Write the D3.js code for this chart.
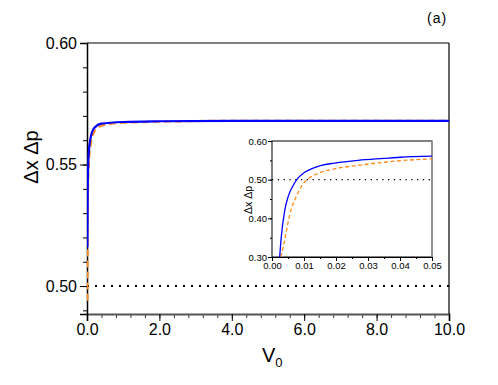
<!DOCTYPE html>
<html>
<head>
<meta charset="utf-8">
<script src="https://cdn.jsdelivr.net/npm/d3@7"></script>
<style>
  body { margin: 0; background: #fff; }
  text { font-family: "Liberation Sans", Arial, sans-serif; }
</style>
</head>
<body>
<svg id="chart" width="498" height="385"></svg>
<script>
// main panel data
const v0 = [0.01, 0.02, 0.03, 0.05, 0.1, 0.2, 0.4, 1, 2, 4, 6, 8, 10];
const blueMain = [0.516, 0.540, 0.548, 0.555, 0.561, 0.565, 0.5668, 0.5675, 0.5678, 0.568, 0.568, 0.568, 0.568];
const orangeMain = [0.494, 0.528, 0.540, 0.550, 0.558, 0.5635, 0.566, 0.5672, 0.5676, 0.568, 0.568, 0.568, 0.568];

// inset data (small V0)
const v0Inset = [0.0024, 0.0029, 0.004, 0.005, 0.0066, 0.0081, 0.010, 0.0123, 0.0154, 0.0196, 0.0269, 0.035, 0.04, 0.05];
const blueInset = [0.30, 0.352, 0.421, 0.455, 0.485, 0.504, 0.518, 0.528, 0.537, 0.543, 0.550, 0.555, 0.558, 0.561];
const v0InsetO = [0.0027, 0.004, 0.005, 0.006, 0.0076, 0.0092, 0.011, 0.0143, 0.0196, 0.0269, 0.035, 0.04, 0.05];
const orangeInset = [0.30, 0.345, 0.389, 0.423, 0.457, 0.483, 0.50, 0.516, 0.528, 0.537, 0.545, 0.549, 0.554];

const mainTicksX = [0, 2, 4, 6, 8, 10];
const mainTicksY = [0.50, 0.55, 0.60];
const insetTicksX = [0, 0.01, 0.02, 0.03, 0.04, 0.05];
const insetTicksY = [0.30, 0.40, 0.50, 0.60];

const svg = d3.select("#chart");

// ---- main plot ----
const m = { left: 87, top: 43, right: 449, bottom: 314 };
const x = d3.scaleLinear().domain([0, 10]).range([m.left, m.right]);
const y = d3.scaleLinear().domain([0.4885, 0.60]).range([m.bottom, m.top]);

svg.append("defs").append("clipPath").attr("id", "clipMain")
  .append("rect").attr("x", m.left).attr("y", m.top)
  .attr("width", m.right - m.left).attr("height", m.bottom - m.top);

// minor ticks
svg.append("g").attr("transform", `translate(0,${m.bottom})`)
  .call(d3.axisBottom(x).tickValues(d3.range(0, 10.01, 0.4)).tickSize(4).tickFormat(""))
  .call(g => g.select(".domain").remove())
  .selectAll("line").attr("stroke", "#333");
svg.append("g").attr("transform", `translate(${m.left},0)`)
  .call(d3.axisLeft(y).tickValues(d3.range(0.49, 0.6001, 0.01)).tickSize(4).tickFormat(""))
  .call(g => g.select(".domain").remove());

// major ticks with labels
svg.append("g").attr("transform", `translate(0,${m.bottom})`)
  .call(d3.axisBottom(x).tickValues(mainTicksX).tickSize(7).tickPadding(3).tickFormat(d3.format(".1f")))
  .call(g => g.select(".domain").attr("stroke", "#555").attr("stroke-width", 2))
  .call(g => g.selectAll("text").attr("font-size", 16).attr("fill", "#000"));
svg.append("g").attr("transform", `translate(${m.left},0)`)
  .call(d3.axisLeft(y).tickValues(mainTicksY).tickSize(7).tickPadding(3).tickFormat(d3.format(".2f")))
  .call(g => g.select(".domain").attr("stroke-width", 1.5))
  .call(g => g.selectAll("text").attr("font-size", 16).attr("fill", "#000"));

// frame top/right
svg.append("line").attr("x1", m.left).attr("x2", m.right).attr("y1", m.top).attr("y2", m.top)
  .attr("stroke", "#000").attr("stroke-width", 1.2);
svg.append("line").attr("x1", m.right).attr("x2", m.right).attr("y1", m.top).attr("y2", m.bottom)
  .attr("stroke", "#000").attr("stroke-width", 1.2);

// dotted 0.5 reference
svg.append("line").attr("x1", m.left).attr("x2", m.right).attr("y1", y(0.5)).attr("y2", y(0.5))
  .attr("stroke", "#000").attr("stroke-width", 2).attr("stroke-dasharray", "2,6");

const lineMain = d3.line().x(d => x(d[0])).y(d => y(d[1])).curve(d3.curveMonotoneX);
svg.append("path").datum(v0.map((v, i) => [v, orangeMain[i]]))
  .attr("clip-path", "url(#clipMain)")
  .attr("fill", "none").attr("stroke", "#ff8c1a").attr("stroke-width", 2.2)
  .attr("stroke-dasharray", "7,4").attr("d", lineMain);
svg.append("path").datum(v0.map((v, i) => [v, blueMain[i]]))
  .attr("clip-path", "url(#clipMain)")
  .attr("fill", "none").attr("stroke", "#0000ff").attr("stroke-width", 2.2).attr("d", lineMain);

// labels
svg.append("text").attr("transform", "translate(38,157) rotate(-90)")
  .attr("text-anchor", "middle").attr("font-size", 20).text("Δx Δp");
const xl = svg.append("text").attr("x", 262).attr("y", 362).attr("font-size", 20);
xl.append("tspan").text("V");
xl.append("tspan").attr("font-size", 13).attr("dy", 5).text("0");
svg.append("text").attr("x", 427).attr("y", 23).attr("font-size", 14)
  .attr("letter-spacing", 1).text("(a)");

// ---- inset ----
const n = { left: 272, top: 141, right: 432, bottom: 257 };
const xi = d3.scaleLinear().domain([0, 0.05]).range([n.left, n.right]);
const yi = d3.scaleLinear().domain([0.30, 0.60]).range([n.bottom, n.top]);

svg.append("rect").attr("x", n.left).attr("y", n.top)
  .attr("width", n.right - n.left).attr("height", n.bottom - n.top)
  .attr("fill", "#fff").attr("stroke", "#000").attr("stroke-width", 1);
svg.append("line").attr("x1", n.right).attr("x2", n.right).attr("y1", n.top).attr("y2", n.bottom)
  .attr("stroke", "#999").attr("stroke-width", 1.5);

svg.select("defs").append("clipPath").attr("id", "clipInset")
  .append("rect").attr("x", n.left).attr("y", n.top)
  .attr("width", n.right - n.left).attr("height", n.bottom - n.top);

svg.append("g").attr("transform", `translate(0,${n.bottom})`)
  .call(d3.axisBottom(xi).tickValues(d3.range(0, 0.0501, 0.005)).tickSize(2).tickFormat(""))
  .call(g => g.select(".domain").remove());
svg.append("g").attr("transform", `translate(${n.left},0)`)
  .call(d3.axisLeft(yi).tickValues(d3.range(0.30, 0.601, 0.05)).tickSize(2).tickFormat(""))
  .call(g => g.select(".domain").remove());
svg.append("g").attr("transform", `translate(0,${n.bottom})`)
  .call(d3.axisBottom(xi).tickValues(insetTicksX).tickSize(4).tickPadding(1).tickFormat(d3.format(".2f")))
  .call(g => g.selectAll("text").attr("font-size", 9.5).attr("fill", "#000"));
svg.append("g").attr("transform", `translate(${n.left},0)`)
  .call(d3.axisLeft(yi).tickValues(insetTicksY).tickSize(4).tickPadding(1).tickFormat(d3.format(".2f")))
  .call(g => g.select(".domain").remove())
  .call(g => g.selectAll("text").attr("font-size", 9.5).attr("fill", "#000"));

svg.append("line").attr("x1", n.left).attr("x2", n.right).attr("y1", yi(0.5)).attr("y2", yi(0.5))
  .attr("stroke", "#000").attr("stroke-width", 1.3).attr("stroke-dasharray", "1.3,4.5");

const lineInset = d3.line().x(d => xi(d[0])).y(d => yi(d[1])).curve(d3.curveMonotoneX);
svg.append("path").datum(v0InsetO.map((v, i) => [v, orangeInset[i]]))
  .attr("clip-path", "url(#clipInset)")
  .attr("fill", "none").attr("stroke", "#ff8c1a").attr("stroke-width", 1.3)
  .attr("stroke-dasharray", "4,2.5").attr("d", lineInset);
svg.append("path").datum(v0Inset.map((v, i) => [v, blueInset[i]]))
  .attr("clip-path", "url(#clipInset)")
  .attr("fill", "none").attr("stroke", "#0000ff").attr("stroke-width", 1.3).attr("d", lineInset);

svg.append("text").attr("transform", "translate(252,200) rotate(-90)")
  .attr("text-anchor", "middle").attr("font-size", 10.5).text("Δx Δp");
</script>
</body>
</html>
